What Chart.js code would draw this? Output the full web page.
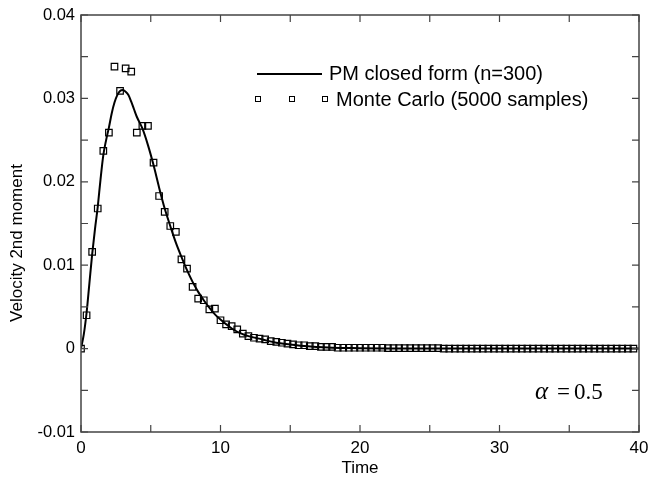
<!DOCTYPE html>
<html>
<head>
<meta charset="utf-8">
<script src="https://cdn.jsdelivr.net/npm/chart.js@4.4.1/dist/chart.umd.min.js"></script>
<style>
  html, body { margin: 0; padding: 0; background: #fff; }
  #wrap { width: 648px; height: 484px; }
</style>
</head>
<body>
<div id="wrap"><canvas id="chart" width="648" height="484"></canvas></div>
<script>
// PM closed form curve
const curveTime = [0, 0.2, 0.4, 0.6, 0.8, 1.0, 1.2, 1.4, 1.6, 1.8, 2.0, 2.2, 2.4, 2.6, 2.8, 3.0, 3.2, 3.4, 3.6, 3.8,
  4.0, 4.4, 4.8, 5.2, 5.6, 6.0, 6.4, 6.8, 7.2, 7.6, 8.0, 8.4, 8.8, 9.2, 9.6, 10, 10.5, 11, 11.5, 12,
  13, 14, 15, 16, 17, 18, 20, 22, 25, 30, 40];
const curveValue = [0, 0.0017, 0.0043, 0.0078, 0.0113, 0.0143, 0.0170, 0.0203, 0.0232, 0.0250, 0.0265, 0.0282, 0.0295, 0.0304, 0.0309, 0.0310, 0.0308, 0.0304, 0.0296, 0.0287,
  0.0278, 0.0264, 0.0244, 0.0220, 0.0193, 0.0168, 0.0147, 0.0127, 0.0110, 0.0094, 0.0080, 0.0068, 0.0058, 0.0049, 0.0041, 0.0035, 0.0028, 0.0022, 0.0018, 0.0015,
  0.0011, 0.0007, 0.0005, 0.0003, 0.0002, 0.0001, 0.00005, 0.00002, 0, 0, 0];

// Monte Carlo samples
const mcTime = [0, 0.4, 0.8, 1.2, 1.6, 2.0, 2.4, 2.8, 3.2, 3.6, 4.0, 4.4, 4.8, 5.2, 5.6, 6.0, 6.4, 6.8, 7.2, 7.6,
  8.0, 8.4, 8.8, 9.2, 9.6, 10.0, 10.4, 10.8, 11.2, 11.6, 12.0, 12.4, 12.8, 13.2, 13.6, 14.0, 14.4, 14.8, 15.2, 15.6,
  16.0, 16.4, 16.8, 17.2, 17.6, 18.0, 18.4, 18.8, 19.2, 19.6, 20.0, 20.4, 20.8, 21.2, 21.6, 22.0, 22.4, 22.8, 23.2, 23.6,
  24.0, 24.4, 24.8, 25.2, 25.6, 26.0, 26.4, 26.8, 27.2, 27.6, 28.0, 28.4, 28.8, 29.2, 29.6, 30.0, 30.4, 30.8, 31.2, 31.6,
  32.0, 32.4, 32.8, 33.2, 33.6, 34.0, 34.4, 34.8, 35.2, 35.6, 36.0, 36.4, 36.8, 37.2, 37.6, 38.0, 38.4, 38.8, 39.2, 39.6];
const mcValue = [0, 0.0040, 0.0116, 0.0168, 0.0237, 0.0259, 0.0338, 0.0309, 0.0336, 0.0332, 0.0259, 0.0267, 0.0267, 0.0223, 0.0183, 0.0164, 0.0147, 0.0140, 0.0107, 0.0096,
  0.0074, 0.0060, 0.0058, 0.0047, 0.0048, 0.0034, 0.0029, 0.0027, 0.0023, 0.0018, 0.0015, 0.0013, 0.0012, 0.0011, 0.0009, 0.0008, 0.0007, 0.0006, 0.0005, 0.0004,
  0.0004, 0.0003, 0.0003, 0.0002, 0.0002, 0.0002, 0.0001, 0.0001, 0.0001, 0.0001, 0.0001, 0.0001, 0.0001, 0.0001, 0.0001, 0.00005, 0.00005, 0.00005, 0.00005, 0.00005,
  0.00005, 0.00005, 0.00005, 0.00005, 0.00005, 0, 0, 0, 0, 0, 0, 0, 0, 0, 0, 0, 0, 0, 0, 0,
  0, 0, 0, 0, 0, 0, 0, 0, 0, 0, 0, 0, 0, 0, 0, 0, 0, 0, 0, 0];

const xMajor = [0, 10, 20, 30, 40];
const xMinor = [5, 15, 25, 35];
const yMajor = [-0.01, 0, 0.01, 0.02, 0.03, 0.04];
const yMinor = [-0.005, 0.005, 0.015, 0.025, 0.035];
const yTickLabels = ['-0.01', '0', '0.01', '0.02', '0.03', '0.04'];

const curveLabel = 'PM closed form (n=300)';
const mcLabel = 'Monte Carlo (5000 samples)';
const yTitle = 'Velocity 2nd moment';

const SANS = '"Liberation Sans", Arial, sans-serif';
const SERIF = '"Liberation Serif", "Times New Roman", serif';

// box + inward ticks on all four sides
const framePlugin = {
  id: 'frame',
  afterDatasetsDraw(chart) {
    const { ctx, chartArea: a, scales: { x, y } } = chart;
    ctx.save();
    ctx.strokeStyle = '#444';
    ctx.lineWidth = 1.5;
    ctx.beginPath();
    ctx.rect(a.left, a.top, a.right - a.left, a.bottom - a.top);
    ctx.stroke();
    ctx.lineWidth = 1.2;
    ctx.beginPath();
    const len = 7;
    [...xMajor, ...xMinor].forEach((v) => {
      const px = x.getPixelForValue(v);
      ctx.moveTo(px, a.bottom); ctx.lineTo(px, a.bottom - len);
      ctx.moveTo(px, a.top); ctx.lineTo(px, a.top + len);
    });
    [...yMajor, ...yMinor].forEach((v) => {
      const py = y.getPixelForValue(v);
      ctx.moveTo(a.left, py); ctx.lineTo(a.left + len, py);
      ctx.moveTo(a.right, py); ctx.lineTo(a.right - len, py);
    });
    ctx.stroke();
    ctx.restore();
  },
};

// y title, legend block and the alpha note
const notesPlugin = {
  id: 'notes',
  afterDraw(chart) {
    const { ctx } = chart;
    ctx.save();
    ctx.fillStyle = '#000';
    ctx.strokeStyle = '#000';

    ctx.save();
    ctx.translate(17, 243);
    ctx.rotate(-Math.PI / 2);
    ctx.font = `17px ${SANS}`;
    ctx.textAlign = 'center';
    ctx.textBaseline = 'middle';
    ctx.fillText(yTitle, 0, 0);
    ctx.restore();

    ctx.font = `20px ${SANS}`;
    ctx.textBaseline = 'middle';
    ctx.lineWidth = 2;
    ctx.beginPath();
    ctx.moveTo(257, 74);
    ctx.lineTo(322, 74);
    ctx.stroke();
    ctx.fillText(curveLabel, 329, 74);

    ctx.lineWidth = 1;
    [258, 292, 325].forEach((cx) => {
      ctx.strokeRect(cx - 2.5, 99 - 2.5, 5, 5);
    });
    ctx.fillText(mcLabel, 336, 100);

    ctx.textBaseline = 'alphabetic';
    ctx.font = `italic 25px ${SERIF}`;
    ctx.fillText('α', 535, 399);
    ctx.font = `23px ${SERIF}`;
    ctx.fillText('=', 557, 399);
    ctx.fillText('0.5', 574, 399);
    ctx.restore();
  },
};

new Chart(document.getElementById('chart'), {
  type: 'scatter',
  data: {
    datasets: [
      {
        label: curveLabel,
        data: curveTime.map((t, i) => ({ x: t, y: curveValue[i] })),
        showLine: true,
        borderColor: '#000',
        borderWidth: 2,
        pointRadius: 0,
        cubicInterpolationMode: 'monotone',
        fill: false,
      },
      {
        label: mcLabel,
        data: mcTime.map((t, i) => ({ x: t, y: mcValue[i] })),
        showLine: false,
        pointStyle: 'rect',
        pointRadius: 4.6,
        pointBorderWidth: 1.2,
        pointBorderColor: '#000',
        pointBackgroundColor: 'rgba(0,0,0,0)',
      },
    ],
  },
  options: {
    responsive: false,
    animation: false,
    layout: { padding: { left: 0, top: 15, right: 9, bottom: 0 } },
    plugins: {
      legend: { display: false },
      tooltip: { enabled: false },
    },
    scales: {
      x: {
        type: 'linear',
        min: 0,
        max: 40,
        grid: { display: false, drawTicks: false },
        border: { display: false },
        ticks: {
          stepSize: 10,
          padding: 6,
          color: '#000',
          font: { family: SANS, size: 17 },
          maxRotation: 0,
        },
        title: {
          display: true,
          text: 'Time',
          color: '#000',
          font: { family: SANS, size: 17 },
          padding: { top: 0, bottom: 5 },
        },
        afterFit: (scale) => {
          scale.height = 52;
          scale.paddingLeft = 0;
          scale.paddingRight = 0;
        },
      },
      y: {
        min: -0.01,
        max: 0.04,
        grid: { display: false, drawTicks: false },
        border: { display: false },
        ticks: {
          stepSize: 0.01,
          padding: 6,
          color: '#000',
          font: { family: SANS, size: 16.5 },
          callback: (value) => {
            const idx = yMajor.findIndex((v) => Math.abs(v - value) < 1e-9);
            return idx >= 0 ? yTickLabels[idx] : '';
          },
        },
        title: { display: false },
        afterFit: (scale) => {
          scale.width = 81;
          scale.paddingTop = 0;
          scale.paddingBottom = 0;
        },
      },
    },
  },
  plugins: [framePlugin, notesPlugin],
});
</script>
</body>
</html>
